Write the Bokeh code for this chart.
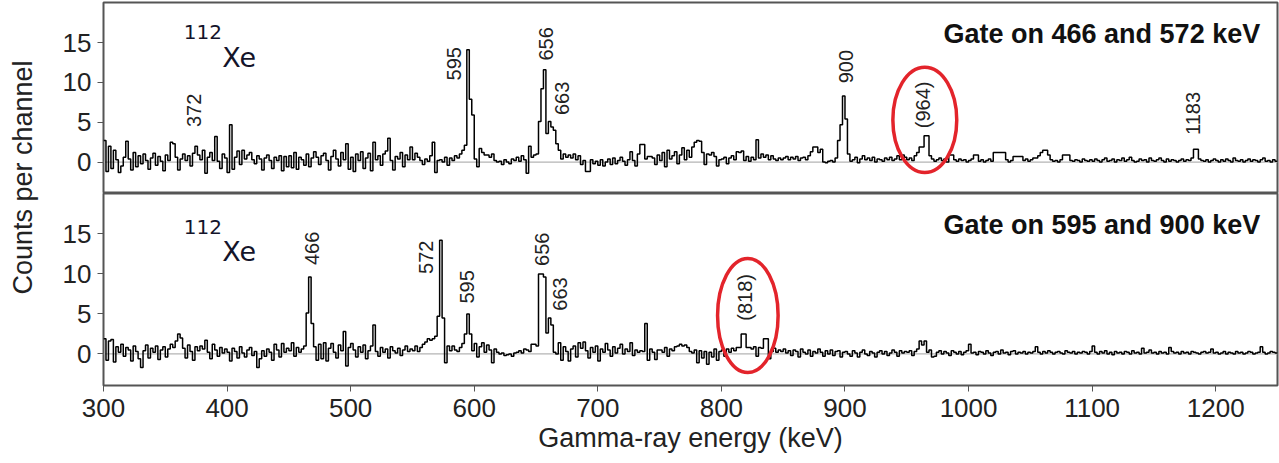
import numpy as np
from bokeh.plotting import figure
from bokeh.layouts import row, column
from bokeh.models import Span, FixedTicker, Range1d
from bokeh.core.properties import value
from bokeh.embed import file_html
from bokeh.resources import INLINE

# ---------------- data ----------------
E_MIN, E_MAX = 300, 1250
BIN_WIDTH = 2  # keV per channel

# Gate on 466 and 572 keV (counts per 2-keV channel, starting at 300 keV)
top_counts = [
    2.7, -1.2, 2.0, -0.8, 1.5, 0.3, -1.3, -0.5, 0.6, 2.6, 0.4, -1.0, 1.2, -0.6, 0.8, -0.2, 1.0, 0.2, -0.9, 0.5, 1.1, -0.4, 0.7, 0.1, -1.1,
    0.9, 0.2, 2.5, 2.3, 0.6, -1.0, 0.4, 1.0, 0.2, 0.8, -0.5, 1.1, 2.0, 0.9, 0.3, 1.5, -1.4, 0.6, 1.2, 0.2, 3.2, 0.1, -0.8, 1.0, 0.5,
    -1.3, 4.7, -0.9, 0.6, 1.4, -0.3, 1.5, 0.4, 0.9, 1.2, 0.3, -0.2, 0.8, 0.4, -1.0, 0.5, 0.9, 0.2, -0.8, 0.6, 0.2, 0.8, -1.1, 0.7, -0.6,
    0.8, -0.7, 1.2, -0.9, 0.6, 0.3, -0.4, 1.0, -0.6, 0.5, 1.3, 0.6, -0.3, 0.8, 1.1, 0.2, -1.0, 0.7, 1.5, 0.4, -0.5, 1.2, 0.3, 2.3, -0.9,
    0.6, -1.2, 1.0, 0.2, 1.3, -0.8, 0.5, 1.1, -1.1, 2.5, 0.3, 0.8, -0.4, 1.0, 1.4, 3.0, 0.2, -1.0, 0.7, 0.4, 1.2, -0.6, 0.9, 0.3, 1.9,
    0.3, 1.1, 0.6, 0.2, -0.3, 0.4, 0.1, 0.8, 2.5, -1.3, 0.2, 0.3, 0.0, 0.6, -0.4, 0.5, 0.2, 0.8, 0.5, 1.0, 1.5, 2.1, 14.1, 7.9, 5.9,
    0.4, -0.6, 1.7, 1.2, 0.9, 0.9, 0.6, 1.0, 0.2, 0.0, 0.1, -0.3, 0.3, 0.0, -0.2, 0.4, 0.2, 0.6, 0.1, 0.8, 0.3, -1.4, 2.0, 0.6, 0.9,
    1.0, 5.1, 9.2, 11.6, 3.6, 5.1, 4.4, 4.0, 2.3, 1.5, 0.4, 1.0, 0.6, 0.9, 0.5, 1.0, 0.3, 0.8, -0.3, 0.2, -1.2, -1.2, 0.3, -0.2, 0.1,
    -0.4, 0.3, -0.5, 0.0, 0.4, -0.3, 0.5, -0.2, 0.2, 0.6, 0.1, -0.4, 0.3, 1.3, 0.2, -0.5, 1.0, 2.2, 2.2, 0.4, 0.7, 0.7, 0.5, -0.3, 0.9,
    0.2, 1.2, -0.6, 1.5, 0.4, 0.8, 1.3, -0.2, 0.9, 1.8, 0.3, 1.5, 0.6, 1.9, 2.5, 2.7, 2.6, 1.2, -0.3, 1.0, 0.9, 1.2, 0.7, -0.5, 0.3,
    0.4, 0.6, -0.2, 0.5, 0.8, 0.3, 1.3, 1.2, 1.4, 0.2, 0.7, 0.1, 0.6, 0.3, 2.8, 0.5, 1.0, 0.6, 0.9, 0.3, 0.8, 0.4, 0.2, 0.5, 0.3,
    0.5, 0.7, 0.3, 0.6, 0.4, 0.7, 0.2, 0.5, 0.6, 0.3, 0.8, 1.3, 1.9, 1.9, 1.2, 1.6, 0.0, -0.1, 0.1, 0.2, 0.0, 0.5, 2.7, 4.7, 8.3,
    5.4, 1.0, 0.1, 0.3, 0.6, -0.1, 0.4, 0.8, 0.3, 0.5, 0.2, 0.6, 0.0, 0.4, 0.3, 0.1, 0.5, 0.3, 0.6, 0.2, 0.4, 0.8, 0.3, 0.9, 0.6,
    0.3, 0.5, 0.2, 0.8, 1.2, 1.9, 1.9, 3.3, 3.3, 0.8, 0.4, 0.1, 0.3, 0.5, 0.2, 0.4, 0.0, 0.9, 0.9, 0.3, 0.1, 0.4, 0.2, 0.3, 0.0,
    0.2, 0.4, 0.9, 0.9, 0.1, 0.3, 0.0, 0.2, 0.4, 0.1, 1.2, 1.2, 1.2, 1.2, 1.2, 0.3, 0.0, 0.2, 0.7, 0.7, 0.7, 0.7, 0.2, 0.4, 0.1,
    0.3, 0.5, 0.5, 0.8, 1.2, 1.5, 1.5, 0.9, 0.3, 0.1, 0.2, 0.0, 0.3, 0.9, 0.9, 0.9, 0.2, 0.1, 0.3, 0.2, 0.0, 0.4, 0.2, 0.1, 0.3,
    0.1, 0.4, 0.2, 0.0, 0.3, 0.5, 0.1, 0.2, 0.4, 0.0, 0.3, 0.2, 0.5, 0.1, 0.3, 0.6, 0.2, 0.0, 0.1, 0.4, 0.2, 0.3, 0.0, 0.5, 0.2,
    0.1, 0.3, 0.5, 0.2, 0.0, 0.4, 0.1, 0.3, 0.2, 0.0, 0.2, 0.4, 0.1, 0.3, 0.2, 0.5, 1.6, 1.6, 0.4, 0.2, 0.1, 0.3, 0.0, 0.2, 0.4,
    0.2, 0.0, 0.3, 0.1, 0.4, 0.2, 0.0, 0.5, 0.2, 0.1, 0.3, 0.0, 0.2, 0.4, 0.1, 0.3, 0.2, 0.0, 0.3, 0.5, 0.1, 0.2, 0.0, 0.3, 0.1,
]

# Gate on 595 and 900 keV
bottom_counts = [
    1.9, -0.8, 1.6, 1.8, -1.0, 0.9, 0.2, 1.2, -0.3, 0.8, 0.5, -0.9, 1.0, 0.3, -0.6, -1.7, 0.4, 1.1, -0.5, 0.7, 0.2, 1.0, -0.7, 0.5, 0.9,
    -0.4, 0.6, 1.2, 0.8, 1.6, 2.5, 2.0, 0.7, -0.5, 1.1, 0.3, -0.8, 0.9, 0.4, 1.0, 0.6, 1.7, 0.2, -0.6, 1.2, 0.5, -0.3, 0.8, 0.1, 0.6,
    0.2, -0.9, 0.7, 0.3, -0.5, 0.9, 0.1, -0.4, 0.5, 0.8, -0.2, 0.3, -1.7, -0.6, 0.4, -0.3, 0.6, 0.2, -0.8, 1.2, 0.5, -0.4, 1.3, 0.2, 0.7,
    0.4, 1.4, -0.3, 0.8, 0.2, 0.6, 1.0, 5.1, 9.6, 3.8, 0.9, -0.8, 1.2, -0.6, 1.4, -0.9, 0.7, 1.3, 0.2, -0.5, 1.1, 0.4, 2.8, -1.5, 0.8,
    1.3, 0.5, -0.4, 0.9, 0.2, 1.1, -0.6, 0.4, 1.0, 3.6, 0.3, -0.3, 0.8, 0.2, 0.6, -0.5, 0.9, 0.4, 0.1, 0.7, -0.2, 0.5, 1.0, 0.3, 0.6,
    0.4, 1.0, 0.3, 0.8, 1.2, 1.5, 1.9, 1.7, 1.9, 2.2, 4.7, 14.2, 4.5, -1.1, 1.0, 0.4, 1.0, 0.5, 0.3, 0.8, 1.3, 2.5, 5.0, 2.5, 0.4,
    1.3, -0.4, 0.9, 1.4, 0.2, 1.1, 0.5, -1.1, 0.6, 0.2, 0.0, 0.1, -0.2, -0.1, 0.0, -0.3, 0.1, 0.2, 0.4, 0.1, 0.6, 0.5, 0.3, 1.2, 1.2,
    1.0, 10.0, 10.0, 9.6, 2.6, 4.5, 3.6, 0.2, 0.0, 1.4, -0.8, 0.9, 0.3, -0.9, 0.6, 1.0, -0.4, 1.4, 0.7, 1.5, 0.4, -0.5, 0.8, 0.2, 1.0,
    -0.9, 0.6, 0.2, 1.3, 0.5, -0.3, 0.9, 0.1, 0.7, 1.2, 0.0, 0.6, 0.3, 1.4, -0.2, 0.5, 0.2, 0.4, 0.3, 3.8, -0.8, 0.6, 0.2, -0.7, 0.5,
    0.5, 0.2, 0.8, -0.3, 0.6, 0.4, 0.9, 1.0, 1.2, 1.0, 1.1, 0.8, 0.3, 0.1, 0.5, -1.1, 0.4, -0.5, 0.3, -1.3, 0.2, -0.4, 0.6, -0.8, 0.3,
    0.5, -0.3, 0.6, 0.2, 0.7, 0.4, 0.8, 0.8, 2.5, 2.5, 0.8, 0.8, 0.6, 0.9, -0.3, 0.8, 0.7, 1.9, 1.9, -0.6, 0.3, 0.7, 0.2, 0.5, 0.3,
    0.6, 0.1, 0.4, -0.2, 0.5, 0.3, -0.4, 0.6, 0.2, 0.0, 0.5, -0.3, 0.3, 0.1, 0.6, 0.2, -0.3, 0.4, 0.0, 0.5, -0.2, 0.3, 0.4, -0.4, 0.2,
    0.3, 0.0, -0.3, 0.4, 0.1, -0.4, 0.2, 0.5, 0.0, -0.2, 0.3, 0.1, -0.4, 0.2, 0.4, 0.0, 0.3, -0.2, 0.1, 0.5, 0.2, -0.3, 0.4, 0.1, 0.3,
    0.2, 0.4, -0.2, 0.3, 0.6, 1.6, 1.1, 1.6, 0.2, 0.5, -0.4, -0.3, 0.2, 0.4, 0.0, 0.3, 0.1, -0.2, 0.4, 0.2, 0.0, 0.3, -0.1, 0.2, 0.4,
    1.2, 0.1, 0.2, -0.1, 0.3, 0.2, 0.0, 0.4, 0.1, -0.2, 0.2, 0.3, 0.0, 0.5, 0.1, 0.2, -0.1, 0.3, 0.4, 0.0, 0.2, 0.1, 0.3, 0.0, 0.2,
    0.1, 0.3, 0.9, 0.2, 0.0, 0.3, 0.1, 0.4, 0.2, 0.0, 0.2, 0.3, 0.1, 0.0, 0.4, 0.2, 0.1, 0.3, 0.0, 0.2, 0.1, 0.3, 0.2, 0.0, 0.3,
    1.0, 0.2, 0.0, 0.3, 0.1, 0.4, 0.0, 0.2, -0.1, 0.3, 0.1, 0.2, 0.0, 0.3, 0.2, 0.0, 0.4, 0.1, 0.2, 0.0, 0.7, 0.1, 0.2, 0.5, 0.1,
    0.2, 0.0, 0.3, 0.1, 0.2, 0.0, 0.8, 0.3, 0.1, 0.2, 0.0, 0.3, 0.1, 0.2, 0.0, 0.3, 0.2, 0.1, 0.0, 0.2, 0.3, 0.1, 0.2, 0.6, 0.1,
    0.2, 0.0, 0.1, 0.3, 0.0, 0.2, 0.1, 0.0, 0.3, 0.1, 0.2, 0.0, 0.1, 0.3, 0.2, 0.0, 0.1, 0.2, 0.9, 0.2, 0.0, 0.1, 0.3, 0.2, 0.1,
]

# peak labels (text, energy position, count level of label bottom)
top_peak_text = ["372", "595", "656", "663", "900", "(964)", "1183"]
top_peak_x = [373.6, 583.5, 657.7, 671.0, 900.6, 963.5, 1182.0]
top_peak_y = [4.4, 10.25, 12.75, 5.9, 9.9, 4.25, 3.4]

bottom_peak_text = ["466", "572", "595", "656", "663", "(818)"]
bottom_peak_x = [468.9, 560.6, 594.3, 655.0, 669.8, 819.5]
bottom_peak_y = [11.1, 10.0, 6.3, 11.0, 5.4, 4.15]

# circled tentative transitions: (energy, counts centre, width keV, height counts)
top_circle = (964.6, 5.3, 51.7, 13.25)
bottom_circle = (821.4, 4.8, 49.0, 14.25)

gate_texts = ["Gate on 466 and 572 keV", "Gate on 595 and 900 keV"]
y_ticks = [0, 5, 10, 15]
x_ticks = [300, 400, 500, 600, 700, 800, 900, 1000, 1100, 1200]

# ---------------- styling ----------------
FONT = value("Liberation Sans")
TXT = "#222222"
FRAME = "#555555"
RED = "#e3242b"
x_range = Range1d(E_MIN, E_MAX)


def step_xy(counts):
    xs = [E_MIN + BIN_WIDTH * i for i in range(len(counts))] + [E_MIN + BIN_WIDTH * len(counts)]
    ys = list(counts) + [counts[-1]]
    return xs, ys


def make_panel(counts, gate, ptext, px, py, circle, height, top_border, bottom_border, with_x,
               iso_y, xe_y):
    kw = dict(width=1239, height=height, x_range=x_range, y_range=Range1d(-3.95, 20.05),
              output_backend="svg", toolbar_location=None, title=None,
              min_border_left=63, min_border_right=2, min_border_top=top_border,
              min_border_bottom=bottom_border)
    if not with_x:
        kw["x_axis_location"] = None
    p = figure(**kw)
    p.grid.visible = False
    p.outline_line_color = FRAME
    p.outline_line_width = 2
    p.background_fill_color = "white"
    p.border_fill_color = "white"

    p.add_layout(Span(location=0, dimension="width", line_color="#b4b4b4",
                      line_width=1.2, level="underlay"))
    xs, ys = step_xy(counts)
    p.step(x=xs, y=ys, mode="after", line_color="black", line_width=1.5)

    cx, cy, cw, ch = circle
    p.ellipse(x=[cx], y=[cy], width=[cw], height=[ch], fill_color=None,
              line_color=RED, line_width=3.5)

    p.text(x=px, y=py, text=ptext, angle=np.pi / 2, text_align="left",
           text_baseline="middle", text_font=FONT, text_font_size="20px",
           text_color=TXT)
    p.text(x=[1236], y=[16.15], text=[gate], text_align="right",
           text_baseline="middle", text_font=FONT, text_font_size="27px",
           text_font_style="bold", text_color="#111111")
    p.text(x=[365.0], y=[iso_y], text=["112"], text_align="left",
           text_baseline="middle", text_font=value("DejaVu Sans"),
           text_font_size="20px", text_color="#14142a")
    p.text(x=[396.0], y=[xe_y], text=["Xe"], text_align="left",
           text_baseline="middle", text_font=value("DejaVu Sans"),
           text_font_size="27px", text_color="#14142a")

    p.yaxis.ticker = FixedTicker(ticks=y_ticks)
    p.yaxis.axis_line_color = None
    p.yaxis.major_tick_out = 6
    p.yaxis.major_tick_in = 0
    p.yaxis.minor_tick_line_color = None
    p.yaxis.major_tick_line_color = FRAME
    p.yaxis.major_label_standoff = 6
    p.yaxis.major_label_text_font = "Liberation Sans"
    p.yaxis.major_label_text_font_size = "26px"
    p.yaxis.major_label_text_color = TXT

    if with_x:
        p.xaxis.ticker = FixedTicker(ticks=x_ticks)
        p.xaxis.axis_line_color = None
        p.xaxis.major_tick_out = 6
        p.xaxis.major_tick_in = 0
        p.xaxis.minor_tick_line_color = None
        p.xaxis.major_tick_line_color = FRAME
        p.xaxis.major_label_standoff = 7
        p.xaxis.major_label_text_font = "Liberation Sans"
        p.xaxis.major_label_text_font_size = "26px"
        p.xaxis.major_label_text_color = TXT
        p.xaxis.axis_label = "Gamma-ray energy (keV)"
        p.xaxis.axis_label_text_font = "Liberation Sans"
        p.xaxis.axis_label_text_font_size = "27px"
        p.xaxis.axis_label_text_font_style = "normal"
        p.xaxis.axis_label_text_color = TXT
        p.xaxis.axis_label_standoff = 3
    return p


top = make_panel(top_counts, gate_texts[0], top_peak_text, top_peak_x, top_peak_y,
                 top_circle, 193, 2, 0, False, 16.3, 13.2)
bottom = make_panel(bottom_counts, gate_texts[1], bottom_peak_text, bottom_peak_x,
                    bottom_peak_y, bottom_circle, 270, 0, 78, True, 15.9, 12.75)

# y-axis title shared by both panels
lab = figure(width=40, height=463, x_range=Range1d(0, 40), y_range=Range1d(0, 463),
             output_backend="svg", toolbar_location=None, title=None,
             x_axis_type=None, y_axis_type=None, min_border=0)
lab.grid.visible = False
lab.outline_line_color = None
lab.text(x=[22], y=[286], text=["Counts per channel"], angle=np.pi / 2,
         text_align="center", text_baseline="middle", text_font=FONT,
         text_font_size="27px", text_color=TXT)

layout = row(lab, column(top, bottom))
open("out.html", "w").write(file_html(layout, INLINE))
